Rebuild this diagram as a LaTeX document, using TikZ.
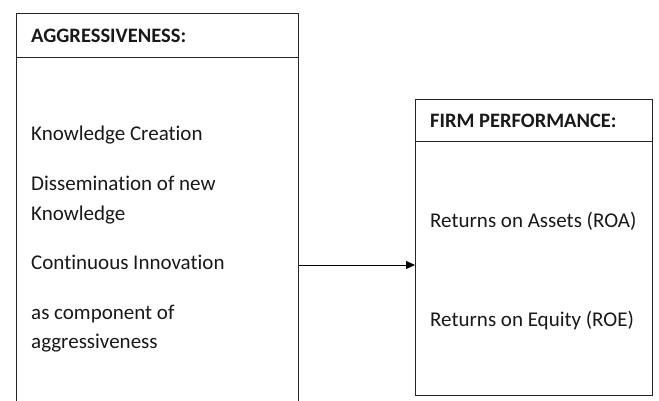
\documentclass[tikz,border=0pt]{standalone}
\usepackage{fontspec}
\setmainfont[Ligatures=NoCommon]{Carlito}
\usetikzlibrary{arrows.meta}
\begin{document}
\begin{tikzpicture}[x=1pt,y=-1pt,
  boxline/.style={draw=black!85, line width=1pt},
  txt/.style={anchor=base west, inner sep=0pt, font=\fontsize{21}{24}\selectfont, text=black!90},
  hdr/.style={anchor=base west, inner sep=0pt, font=\fontsize{20.5}{24}\selectfont\bfseries, text=black!90}]
\useasboundingbox[fill=white] (0,0) rectangle (659,401);
% left box
\node[boxline, rectangle, minimum width=282pt, minimum height=420pt, anchor=north west, inner sep=0pt] (agg) at (16,13) {};
\coordinate (aggh) at (16,57.5);
\draw[boxline] (aggh) -- (aggh -| agg.east);
% right box
\node[boxline, rectangle, minimum width=237pt, minimum height=295pt, anchor=north west, inner sep=0pt] (perf) at (415,99.5) {};
\coordinate (perfh) at (415,142);
\draw[boxline] (perfh) -- (perfh -| perf.east);
% texts left
\node[hdr] (t0) at (31,42.5) {AGGRESSIVENESS:};
\node[txt] (t1) at (31,141) {Knowledge Creation};
\node[txt] (t2) at (31,190) {Dissemination of new};
\node[txt] (t3) at (31,220) {Knowledge};
\node[txt] (t4) at (31,269) {Continuous Innovation};
\node[txt] (t5) at (31,319) {as component of};
\node[txt] (t6) at (31,348) {aggressiveness};
% texts right
\node[hdr] (r0) at (430,127.5) {FIRM PERFORMANCE:};
\node[txt] (r1) at (430,227) {Returns on Assets (ROA)};
\node[txt] (r2) at (430,326) {Returns on Equity (ROE)};
% arrow
\coordinate (arr) at (0,265);
\draw[line width=0.9pt, -{Triangle[length=9pt,width=8pt]}] (agg.east |- arr) -- (perf.west |- arr);
\end{tikzpicture}
\end{document}
